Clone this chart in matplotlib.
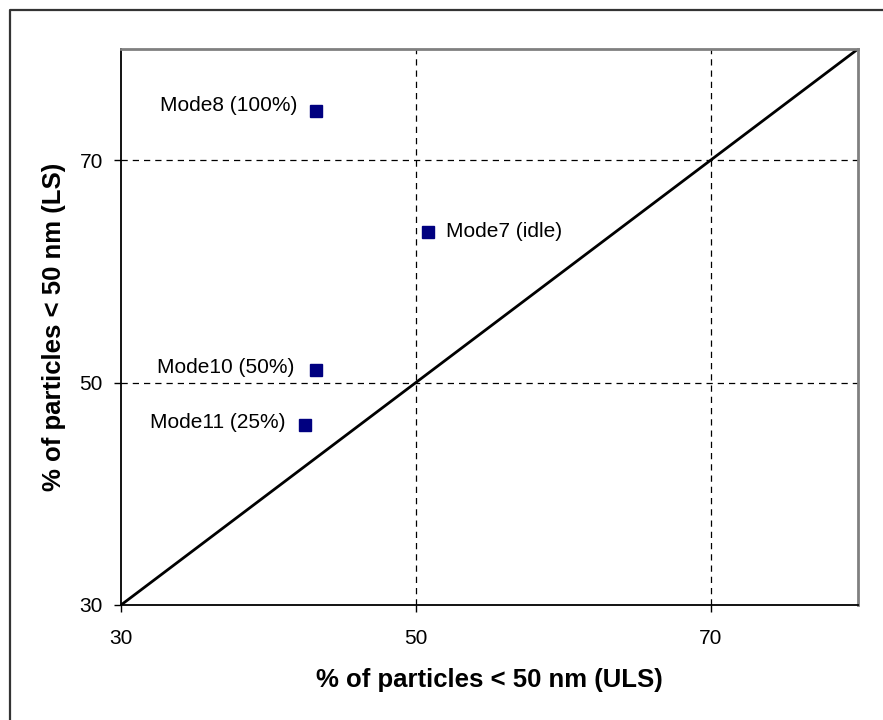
import matplotlib
matplotlib.use("Agg")
import matplotlib.pyplot as plt
from matplotlib.lines import Line2D

plt.rcParams['font.family'] = ['Liberation Sans', 'DejaVu Sans']

modes = ["Mode8 (100%)", "Mode7 (idle)", "Mode10 (50%)", "Mode11 (25%)"]
uls = [43.2, 50.8, 43.2, 42.5]
ls = [74.4, 63.5, 51.1, 46.2]
# label offsets in points (dx, dy) and alignment
offsets = [(-13, 4), (13, 1), (-15, 2), (-14, 2)]
aligns = ["right", "left", "right", "right"]
ticks = [30, 50, 70]

fig = plt.figure(figsize=(8.83, 7.2), dpi=100)
ax = fig.add_axes([121/883, 1 - 605/720, (858 - 121)/883, (605 - 49)/720])

ax.set_xlim(30, 80)
ax.set_ylim(30, 80)
ax.set_xticks(ticks)
ax.set_yticks(ticks)

for t in ticks[1:]:
    ax.axvline(t, color="black", ls=(0, (5, 4)), lw=0.9, zorder=1)
    ax.axhline(t, color="black", ls=(0, (5, 4)), lw=0.9, zorder=1)

ax.plot([30, 80], [30, 80], color="black", lw=2, zorder=2)
ax.plot(uls, ls, ls="none", marker="s", ms=8.8, color="#000080",
        mec="#000080", zorder=3)

for name, x, y, (dx, dy), ha in zip(modes, uls, ls, offsets, aligns):
    ax.annotate(name, (x, y), xytext=(dx, dy), textcoords="offset points",
                ha=ha, va="center", fontsize=15)

for s in ["top", "right"]:
    ax.spines[s].set_color("#808080")
    ax.spines[s].set_linewidth(2)
for s in ["left", "bottom"]:
    ax.spines[s].set_color("black")
    ax.spines[s].set_linewidth(1.3)

ax.tick_params(direction="out", length=5, width=1, labelsize=15)
ax.tick_params(axis="x", pad=12)
ax.tick_params(axis="y", pad=8)
ax.set_xlabel("% of particles < 50 nm (ULS)", fontsize=18.5,
              fontweight="bold", labelpad=15)
ax.set_ylabel("% of particles < 50 nm (LS)", fontsize=18.5,
              fontweight="bold", labelpad=10)

# outer frame (only left and top edges visible)
fig.add_artist(Line2D([10/883, 10/883, 1.01], [-0.01, 1 - 10/720, 1 - 10/720],
                      transform=fig.transFigure, color="#333333", lw=1.6))

fig.savefig("out.png", dpi=100)
